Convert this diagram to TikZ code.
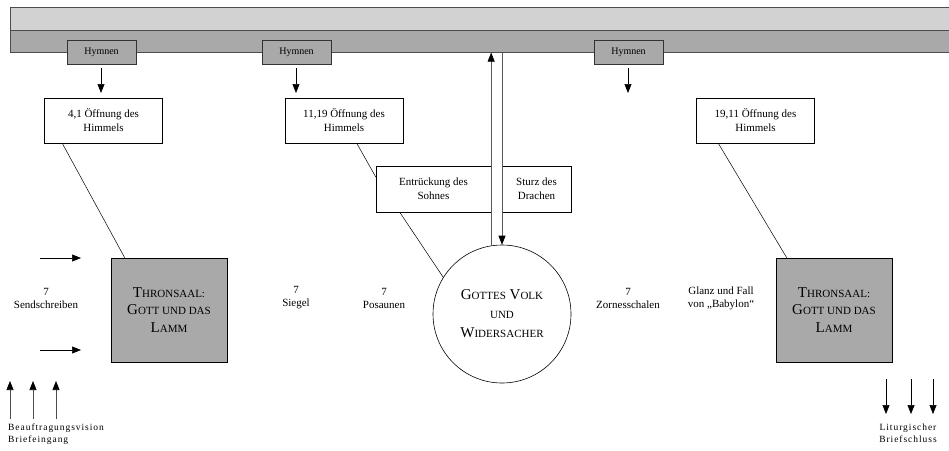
\documentclass[tikz,border=0pt]{standalone}
\usepackage{fontspec}
\setmainfont{Liberation Serif}
\newfontfamily\spacedfont[LetterSpace=10]{Liberation Serif}
\usetikzlibrary{arrows.meta}
\definecolor{barlight}{HTML}{D2D2D2}
\definecolor{bardark}{HTML}{A9A9A9}
\newcommand\mySC[2]{{\fontsize{15}{17}\selectfont #1}{\fontsize{11}{17}\selectfont #2}}
\newcommand\mySmall[1]{{\fontsize{11}{17}\selectfont #1}}
\begin{document}
\begin{tikzpicture}[x=1pt,y=-1pt,
  barbox/.style={draw=black!70, line width=0.6pt, anchor=north west, inner sep=0, minimum width=939pt},
  hbox/.style={draw=black!80, fill=bardark, line width=0.6pt, minimum width=69pt, minimum height=24pt, inner sep=0, font=\fontsize{10}{11}\selectfont},
  obox/.style={draw, line width=0.5pt, fill=white, minimum width=118pt, minimum height=45pt, inner sep=0, align=center, font=\fontsize{11}{14}\selectfont},
  ebox/.style={draw, line width=0.5pt, fill=white, minimum height=46pt, inner sep=0, align=center, font=\fontsize{11}{14}\selectfont},
  tbox/.style={draw, line width=0.6pt, fill=bardark, minimum width=116pt, minimum height=104pt, inner sep=0, align=center, font=\fontsize{15}{17.5}\selectfont},
  lab/.style={align=center, inner sep=0, font=\fontsize{11}{13}\selectfont},
  bottomlab/.style={inner sep=0, font=\spacedfont\fontsize{9.5}{12}\selectfont},
  arr/.style={line width=0.6pt, -{Triangle[length=9pt,width=7pt,color=black]}},
  thin/.style={line width=0.5pt}
]
\useasboundingbox (0,0) rectangle (949,450);

% top bar
\node[barbox, fill=barlight, minimum height=23pt] (bartop) at (10,7) {};
\node[barbox, fill=bardark, minimum height=22pt] (band) at (10,30) {};

% Hymnen boxes
\node[hbox] (h1) at (101.5,52) {Hymnen};
\node[hbox] (h2) at (296.5,52) {Hymnen};
\node[hbox] (h3) at (628.5,52) {Hymnen};

\coordinate (h1a) at (101,68); \coordinate (h1b) at (101,93);
\coordinate (h2a) at (296,68); \coordinate (h2b) at (296,93);
\coordinate (h3a) at (628,68); \coordinate (h3b) at (628,93);
\draw[arr] (h1a) -- (h1b);
\draw[arr] (h2a) -- (h2b);
\draw[arr] (h3a) -- (h3b);

% Oeffnung boxes
\node[obox] (o1) at (103.5,120.5) {4,1 Öffnung des\\Himmels};
\node[obox] (o2) at (344,120.5) {11,19 Öffnung des\\Himmels};
\node[obox] (o3) at (755.5,120.5) {19,11 Öffnung des\\Himmels};

% Thronsaal boxes
\node[tbox] (t1) at (169,310) {\mySC{T}{HRONSAAL:}\\\mySC{G}{OTT UND DAS}\\\mySC{L}{AMM}};
\node[tbox] (t2) at (834,310) {\mySC{T}{HRONSAAL:}\\\mySC{G}{OTT UND DAS}\\\mySC{L}{AMM}};

% Entrueckung / Sturz
\node[ebox, minimum width=115pt] (e) at (433.5,189) {Entrückung des\\Sohnes};
\node[ebox, minimum width=69pt] (s) at (536.5,189) {Sturz des\\Drachen};

% circle
\node[circle, draw, line width=0.6pt, minimum size=138pt, inner sep=0, align=center,
      font=\fontsize{15}{19}\selectfont] (c) at (502,314)
  {\mySC{G}{OTTES} \mySC{V}{OLK}\\\mySmall{UND}\\\mySC{W}{IDERSACHER}};

% connectors
\draw[thin] ([xshift=18pt]o1.south west) -- ([xshift=14pt]t1.north west);
\draw[thin] ([xshift=22pt]o3.south west) -- ([xshift=11pt]t2.north west);
\draw[thin] ([xshift=72pt]o2.south west) -- ([yshift=12pt]e.west);
\draw[thin] ([xshift=24pt]e.south west) -- (c.148);

% central vertical arrows
\draw[arr, draw=black!65] (c.99) -- (c.99 |- band.south);
\draw[arr, draw=black!65] (c.north |- band.south) -- (c.north);

% labels
\node[lab] (l1) at (46,298) {7\\Sendschreiben};
\node[lab] (l2) at (296,298) {7\\Siegel};
\node[lab] (l3) at (384,298) {7\\Posaunen};
\node[lab] (l4) at (628,298) {7\\Zornesschalen};
\node[lab] (l5) at (721,298) {Glanz und Fall\\von „Babylon“};

% left horizontal arrows
\coordinate (la1) at (40,258); \coordinate (lb1) at (81,258);
\coordinate (la2) at (40,350); \coordinate (lb2) at (81,350);
\draw[arr] (la1) -- (lb1);
\draw[arr] (la2) -- (lb2);

% bottom left
\foreach \x/\n in {10/1,33/2,56/3}{
  \coordinate (ua\n) at (\x,419); \coordinate (ub\n) at (\x,381);
  \draw[arr, draw=black!70] (ua\n) -- (ub\n);
}
\node[bottomlab, anchor=north west, align=left] (bl) at (8,424) {Beauftragungsvision\\Briefeingang};

% bottom right
\foreach \x/\n in {886/1,911/2,933/3}{
  \coordinate (da\n) at (\x,379); \coordinate (db\n) at (\x,414);
  \draw[arr] (da\n) -- (db\n);
}
\node[bottomlab, anchor=north, align=center] (br) at (908,424) {Liturgischer\\Briefschluss};
\end{tikzpicture}
\end{document}
